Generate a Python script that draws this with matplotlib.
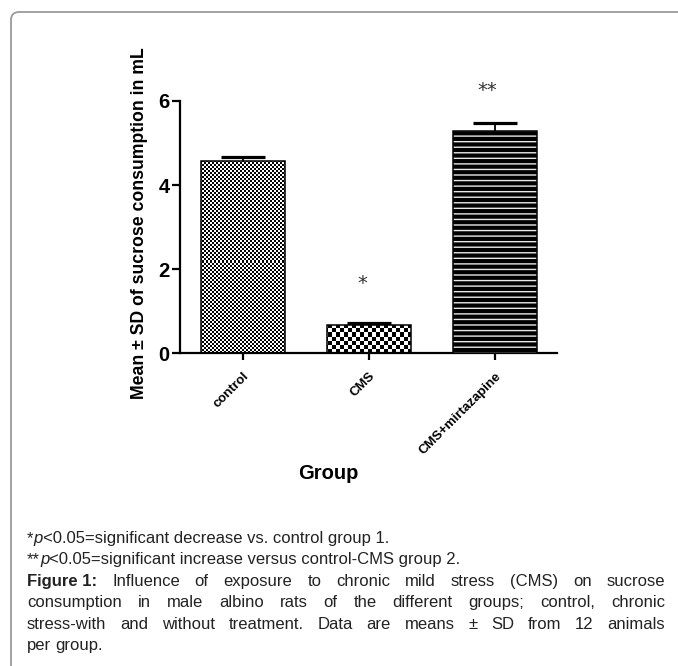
import numpy as np
import matplotlib
matplotlib.use("Agg")
import matplotlib.pyplot as plt
import matplotlib.patches as mpatches

# ---------------- data ----------------
groups = ["control", "CMS", "CMS+mirtazapine"]
means = [4.57, 0.67, 5.29]
sds = [0.09, 0.05, 0.19]
sig_marks = ["", "*", "**"]
sig_y = [None, 1.65, 6.26]
y_ticks = [0, 2, 4, 6]

footnotes = [
    [("*", "normal", "normal"), ("p", "normal", "italic"),
     ("<0.05=significant decrease vs. control group 1.", "normal", "normal")],
    [("**", "normal", "normal"), ("p", "normal", "italic"),
     ("<0.05=significant increase versus control-CMS group 2.", "normal", "normal")],
]
caption_lines = [
    "Figure 1: Influence of exposure to chronic mild stress (CMS) on sucrose",
    "consumption in male albino rats of the different groups; control,  chronic",
    "stress-with and without treatment. Data are means \u00b1 SD from 12 animals",
    "per group.",
]
caption_bold = "Figure 1:"

W, H = 678, 666
fig = plt.figure(figsize=(W / 100, H / 100), dpi=100)
plt.rcParams['font.family'] = ['Liberation Sans', 'DejaVu Sans']

# frame
frame = mpatches.FancyBboxPatch((11 / W, -0.2), 1.3, 1 - 12 / H + 0.2,
                                boxstyle="round,pad=0,rounding_size=0.012",
                                transform=fig.transFigure, fill=False,
                                edgecolor="#9a9a9a", lw=1.3)
fig.patches.append(frame)

ax = fig.add_axes([180 / W, 1 - 353.3 / H, 377 / W, 252.3 / H])
x = np.arange(len(groups))
xlim = (-0.495, 2.49)
ylim = (0, 6)
ax.set_xlim(*xlim)
ax.set_ylim(*ylim)

bars = ax.bar(x, means, width=0.665, edgecolor="black", linewidth=1.1,
              facecolor="white", zorder=2)

# checker patterns for first two bars
cells = [2, 4]
ph, pw = 252, 377
ii, jj = np.mgrid[0:ph, 0:pw]
for b, c in zip(bars[:2], cells):
    img = ((ii // c) + (jj // c)) % 2
    im = ax.imshow(img, cmap="gray_r", extent=(xlim[0], xlim[1], ylim[0], ylim[1]),
                   origin="upper", interpolation="nearest", aspect="auto", zorder=2.5,
                   vmin=0, vmax=1)
    im.set_clip_path(b)
    b.set_zorder(3)
    b.set_facecolor("none")

# striped bar
plt.rcParams['hatch.linewidth'] = 1.0
bars[2].set_facecolor("black")
bars[2].set_hatch("---")
bars[2].set_zorder(3)
bars[2]._hatch_color = matplotlib.colors.to_rgba('#e8e8e8')

eb = ax.errorbar(x, means, yerr=[np.zeros(len(means)), sds], fmt="none",
                 ecolor="black", elinewidth=1.3, capsize=15.5, capthick=2.3, zorder=4)
eb[1][0].set_visible(False)

for xi, m, yy in zip(x, sig_marks, sig_y):
    if m:
        ax.text(xi - 0.05 if len(m) == 1 else xi - 0.06, yy, m, ha="center", va="center",
                fontsize=14, color="#333333", family="DejaVu Sans", clip_on=False)

for s in ["top", "right"]:
    ax.spines[s].set_visible(False)
for s in ["left", "bottom"]:
    ax.spines[s].set_linewidth(1.6)

ax.set_yticks(y_ticks)
ax.set_yticklabels([str(t) for t in y_ticks], fontsize=14.5, fontweight="bold")
ax.set_xticks(x)
ax.set_xticklabels(groups, rotation=45, ha="right", rotation_mode="anchor",
                   fontsize=9.5, fontweight="bold")
ax.tick_params(axis="y", length=6, width=1.6, pad=1.5)
ax.tick_params(axis="x", length=5, width=1.6, pad=7)

ax.set_ylabel("Mean \u00b1 SD of sucrose consumption in mL", fontsize=12.7,
              fontweight="bold")
ax.yaxis.set_label_coords(-0.085, 0.514)
ax.text(0.3926, -0.476, "Group", transform=ax.transAxes, ha="center", va="center",
        fontsize=14.5, fontweight="bold")

# ---------------- caption text ----------------
renderer = fig.canvas.get_renderer()
cap_family = ['Liberation Sans', 'DejaVu Sans']
cap_size = 12


def make(t, weight, style, y):
    return fig.text(0, 1 - y / H, t, fontsize=cap_size, fontweight=weight,
                    fontstyle=style, family=cap_family, ha="left", va="baseline",
                    color="#222222")


def place_runs(runs, y, x0):
    xx = x0
    for t, w, s in runs:
        tx = make(t, w, s, y)
        wd = tx.get_window_extent(renderer).width
        tx.set_x(xx / W)
        xx += wd


def place_words(line, y, x0, x1=None):
    tokens = []
    if line.startswith(caption_bold):
        tokens.append((caption_bold, "bold"))
        line = line[len(caption_bold):]
    tokens += [(w, "normal") for w in line.split()]
    objs = []
    widths = []
    for wd, wt in tokens:
        tx = make(wd, wt, "normal", y)
        objs.append(tx)
        widths.append(tx.get_window_extent(renderer).width)
    a = make("a a", "normal", "normal", y)
    b = make("aa", "normal", "normal", y)
    space = a.get_window_extent(renderer).width - b.get_window_extent(renderer).width
    a.remove(); b.remove()
    if x1 is not None and len(tokens) > 1:
        gap = (x1 - x0 - sum(widths)) / (len(tokens) - 1)
    else:
        gap = space
    xx = x0
    for tx, wd in zip(objs, widths):
        tx.set_x(xx / W)
        xx += wd + gap


foot_y = [543, 564]
for runs, yy in zip(footnotes, foot_y):
    place_runs(runs, yy, 27)

cap_y = [586, 607, 629, 650]
for k, (line, yy) in enumerate(zip(caption_lines, cap_y)):
    last = k == len(caption_lines) - 1
    place_words(line, yy, 27, None if last else 665)

fig.savefig("out.png", dpi=100)
